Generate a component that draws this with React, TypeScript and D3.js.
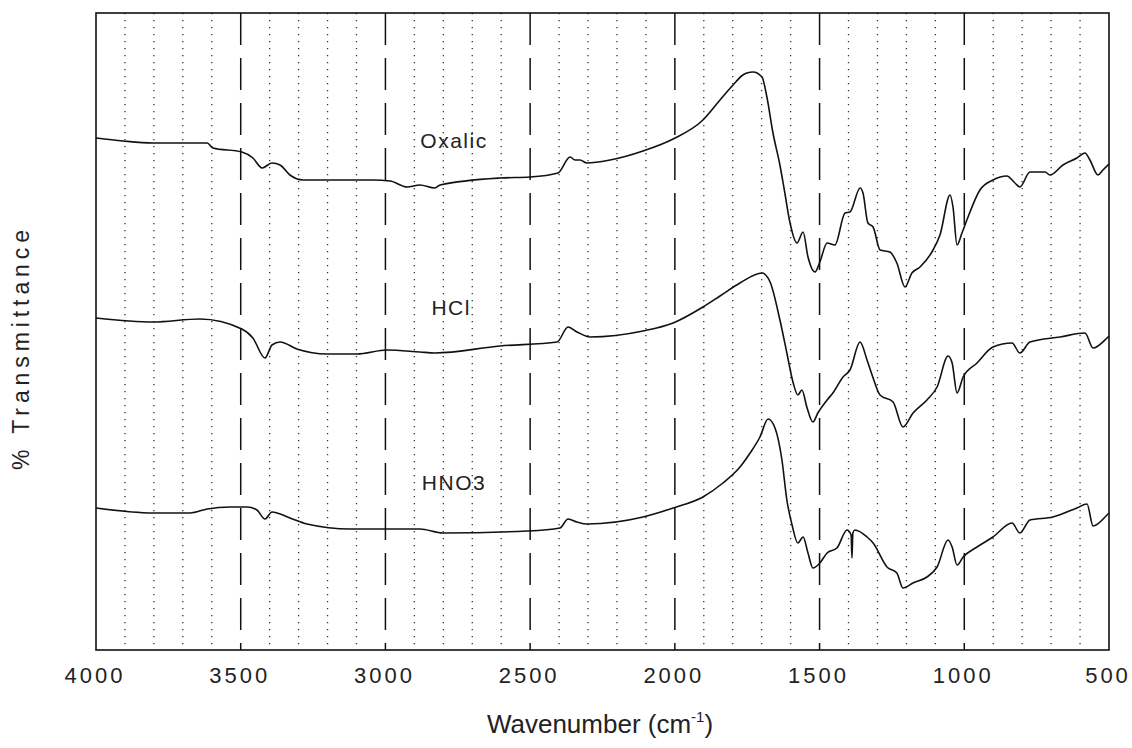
import React from "react"
import * as d3 from "d3"

// wavenumber (cm-1), % transmittance (offset spectra, arbitrary units)
const oxalic: [number, number][] = [
  [4000, 102.4], [3907, 101.8], [3803, 101.4], [3616, 101.4], [3596, 100.4], [3496, 99.6],
  [3458, 98.4], [3426, 96.4], [3392, 97.4], [3364, 97.0], [3330, 95.0], [3285, 94.0],
  [3216, 94.0], [3043, 94.0], [2984, 93.8], [2925, 92.6], [2881, 93.0], [2829, 92.4],
  [2811, 93.0], [2604, 94.4], [2500, 94.6], [2404, 95.4], [2362, 98.6], [2345, 98.0],
  [2328, 98.0], [2304, 97.4], [2224, 98.0], [2110, 99.8], [2006, 102.2], [1903, 106.0],
  [1844, 110.0], [1799, 113.0], [1765, 115.0], [1751, 115.4], [1730, 115.6], [1699, 114.6], [1682, 110.6],
  [1661, 103.4], [1637, 97.0], [1620, 91.4], [1602, 85.4], [1578, 81.4], [1557, 83.6],
  [1540, 78.6], [1516, 75.6], [1499, 77.6], [1474, 81.4], [1447, 81.0], [1412, 87.4],
  [1395, 87.6], [1360, 92.4], [1350, 91.4], [1333, 85.4], [1315, 84.6], [1291, 80.0],
  [1257, 79.6], [1233, 77.4], [1205, 72.6], [1181, 75.4], [1153, 76.6], [1108, 80.0],
  [1084, 83.0], [1049, 91.0], [1039, 88.6], [1025, 81.0], [1008, 83.4], [991, 86.0],
  [946, 92.0], [901, 94.0], [853, 94.8], [825, 93.4], [808, 92.6], [773, 95.6],
  [721, 95.6], [704, 95.0], [659, 97.0], [611, 98.4], [583, 99.4], [566, 98.0],
  [538, 95.0], [521, 96.0], [500, 97.2],
]

const hcl: [number, number][] = [
  [4000, 66.4], [3803, 65.6], [3641, 66.2], [3496, 64.2], [3458, 62.4], [3416, 58.4],
  [3392, 61.0], [3364, 61.6], [3306, 60.2], [3202, 59.2], [3098, 59.2], [2995, 60.0],
  [2881, 59.6], [2829, 59.4], [2604, 60.8], [2407, 61.6], [2369, 64.6], [2338, 63.6],
  [2293, 62.6], [2110, 63.8], [2006, 65.4], [1903, 68.6], [1844, 70.8], [1775, 73.4],
  [1699, 75.4], [1671, 73.6], [1637, 66.0], [1613, 59.4], [1592, 53.6], [1575, 51.0],
  [1561, 52.0], [1544, 48.6], [1523, 45.6], [1506, 47.4], [1474, 50.0], [1454, 51.4],
  [1419, 54.6], [1395, 56.0], [1360, 61.6], [1336, 58.0], [1315, 54.4], [1291, 51.0],
  [1246, 49.6], [1212, 44.6], [1177, 47.4], [1129, 50.0], [1094, 52.6], [1056, 58.8],
  [1042, 57.4], [1025, 51.4], [1004, 54.6], [956, 57.4], [901, 60.6], [835, 61.4],
  [808, 59.4], [773, 61.6], [669, 62.6], [583, 63.4], [555, 60.4], [507, 62.4], [500, 62.8],
]

const hno3: [number, number][] = [
  [4000, 28.4], [3803, 27.4], [3675, 27.4], [3616, 28.2], [3537, 28.6], [3478, 28.6],
  [3444, 28.0], [3416, 26.2], [3392, 27.6], [3330, 26.4], [3271, 25.2], [3122, 24.2],
  [2881, 24.2], [2801, 23.4], [2511, 23.8], [2397, 24.4], [2369, 26.2], [2338, 25.6],
  [2304, 25.2], [2110, 26.6], [2006, 28.4], [1903, 30.6], [1834, 33.4], [1775, 36.6],
  [1740, 39.4], [1706, 42.6], [1678, 46.2], [1654, 44.4], [1630, 38.0], [1613, 30.0],
  [1595, 25.0], [1575, 21.4], [1557, 22.6], [1540, 19.4], [1523, 16.4], [1499, 17.4],
  [1474, 19.4], [1440, 20.4], [1405, 24.0], [1391, 23.0], [1388, 18.4], [1385, 23.4],
  [1378, 24.0], [1336, 22.6], [1315, 21.4], [1267, 16.6], [1233, 15.4], [1212, 12.4],
  [1177, 13.4], [1129, 14.6], [1094, 16.6], [1056, 22.0], [1042, 20.6], [1025, 17.0],
  [1004, 18.6], [956, 20.6], [901, 22.6], [835, 25.4], [808, 23.4], [773, 26.0],
  [694, 26.6], [611, 28.4], [576, 29.2], [555, 24.8], [507, 27.0], [500, 27.4],
]

const seriesLabels = [
  { name: "Oxalic", wn: 2763, t: 100.4 },
  { name: "HCl", wn: 2773, t: 67.0 },
  { name: "HNO3", wn: 2763, t: 32.0 },
]

const majorTicks = [4000, 3500, 3000, 2500, 2000, 1500, 1000, 500]
const minorTicks = d3.range(3900, 500, -100).filter((v) => v % 500 !== 0)

const App: React.FC = () => {
  const W = 1132
  const H = 748
  const margin = { top: 13, right: 23, bottom: 98, left: 96 }
  const innerW = W - margin.left - margin.right
  const innerH = H - margin.top - margin.bottom

  const x = d3.scaleLinear().domain([4000, 500]).range([0, innerW])
  const y = d3.scaleLinear().domain([0, 127.4]).range([innerH, 0])

  const line = d3.line<[number, number]>()
    .x((d) => x(d[0]))
    .y((d) => y(d[1]))
    .curve(d3.curveMonotoneX)

  const font = "'Liberation Sans', Arial, sans-serif"

  return (
    <svg width={W} height={H} style={{ position: "absolute", left: 0, top: 0, background: "#fff" }}>
      <g transform={`translate(${margin.left},${margin.top})`}>
        {/* minor dotted grid */}
        {minorTicks.map((t) => (
          <line key={`mn-${t}`} x1={x(t)} x2={x(t)} y1={0} y2={innerH}
            stroke="#333" strokeWidth={1.3} strokeDasharray="1.3,5.7" />
        ))}
        {/* major dashed grid */}
        {majorTicks.slice(1, -1).map((t) => (
          <line key={`mj-${t}`} x1={x(t)} x2={x(t)} y1={0} y2={innerH}
            stroke="#111" strokeWidth={1.5} strokeDasharray="32,13" />
        ))}

        {[oxalic, hcl, hno3].map((s, i) => (
          <path key={i} d={line(s) ?? ""} fill="none" stroke="#111" strokeWidth={1.6}
            strokeLinejoin="round" />
        ))}

        {seriesLabels.map((l) => (
          <text key={l.name} x={x(l.wn)} y={y(l.t)} textAnchor="middle"
            fontFamily={font} fontSize={21} letterSpacing={1.5} fill="#222">
            {l.name}
          </text>
        ))}

        <rect x={0} y={0} width={innerW} height={innerH} fill="none" stroke="#111" strokeWidth={1.6} />

        {majorTicks.map((t) => (
          <text key={`tl-${t}`} x={x(t) - 1} y={innerH + 33} textAnchor="middle"
            fontFamily={font} fontSize={22} letterSpacing={3} fill="#222">
            {t}
          </text>
        ))}
      </g>

      <text transform="translate(29,350) rotate(-90)" textAnchor="middle" fontFamily={font}
        fontSize={23} fill="#222" textLength={240} lengthAdjust="spacing">
        % Transmittance
      </text>

      <text x={600} y={733} textAnchor="middle" fontFamily={font} fontSize={26} fill="#222">
        Wavenumber (cm<tspan fontSize={15} dy={-11}>-1</tspan><tspan dy={11}>)</tspan>
      </text>
    </svg>
  )
}

export default App
